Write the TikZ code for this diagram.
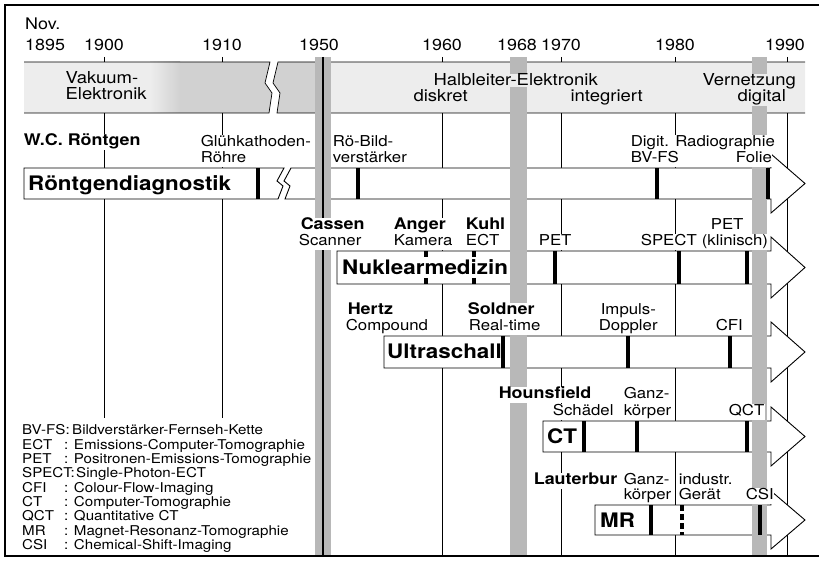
\documentclass[tikz,border=0pt]{standalone}
\usepackage{fontspec}
\setmainfont[FakeStretch=1.12]{TeX Gyre Heros}
\usetikzlibrary{calc}
\definecolor{bandlight}{gray}{0.93}
\definecolor{banddark}{gray}{0.82}
\definecolor{stipple}{gray}{0.72}
\newcommand{\yearfont}{\fontsize{16}{17}\selectfont}
\newcommand{\labfont}{\fontsize{15}{16}\selectfont}
\newcommand{\namefont}{\fontsize{16}{17}\selectfont\bfseries}
\newcommand{\titlefont}{\fontsize{20}{22}\selectfont\bfseries}
\newcommand{\epochfont}{\fontsize{16.5}{17}\selectfont}
\newcommand{\legfont}{\fontsize{13.5}{14}\selectfont}

\begin{document}
\begin{tikzpicture}[
    x=1pt, y=-1pt,
    boxframe/.style={line width=1.6pt},
    gridline/.style={line width=0.7pt},
    bar/.style={draw, fill=white, line width=0.9pt},
    evtick/.style={line width=3.2pt},
    band/.style={fill=stipple},
    yearlab/.style={font=\yearfont, anchor=base, inner sep=0pt},
    lab/.style={font=\labfont, fill=white, inner sep=0.6pt, text height=11pt, text depth=3.5pt, anchor=base west},
    who/.style={lab, font=\namefont},
    bartitle/.style={font=\titlefont, anchor=base west, inner sep=0pt},
    epoch/.style={font=\epochfont, fill=bandlight, inner sep=0.4pt, anchor=base west},
    leg/.style={font=\legfont, anchor=base west, inner sep=0pt},
]
    \useasboundingbox (0,0) rectangle (820,569);
    \draw[boxframe] (819,5) -- (5,5) -- (5,556) -- (819,556);

    % epoch band with break
    \fill[bandlight] (24,62) -- (270,62) -- (265,83) -- (272,93) -- (269,113) -- (24,113) -- cycle;
    \fill[bandlight] (805,62) -- (278,62) -- (273,83) -- (280,93) -- (277,113) -- (805,113) -- cycle;
    \shade[left color=bandlight, right color=banddark] (150,62) rectangle (180,113);
    \fill[banddark] (180,62) -- (270,62) -- (265,83) -- (272,93) -- (269,113) -- (180,113) -- cycle;
    \fill[banddark] (315,62) -- (278,62) -- (273,83) -- (280,93) -- (277,113) -- (315,113) -- cycle;
    \draw[gridline] (24,62) -- (270,62) -- (265,83) -- (272,93) -- (269,113) -- (24,113);
    \draw[gridline] (805,62) -- (278,62) -- (273,83) -- (280,93) -- (277,113) -- (805,113);
    \foreach \x in {104, 222, 442, 561, 675, 787} {
        \draw[gridline] (\x,57) -- (\x,62);
    }

    % year lines
    \foreach \x in {104, 222} {
        \draw[gridline] (\x,113) -- (\x,418);
    }
    \foreach \x in {442, 561, 675, 787} {
        \draw[gridline] (\x,113) -- (\x,556);
    }

    % bars
    \draw[bar] (24,168) -- (284,168) -- (277,181) -- (283,186) -- (278,199) -- (24,199) -- cycle;
    \draw[bar] (291,168) -- (771,168) -- (771,154) -- (805,183.5) -- (771,213) -- (771,199) -- (285,199) -- (290,186) -- (284,181) -- cycle;
    \foreach \xa/\ya/\yb in {337/251/284, 384/336/368, 543/421/452, 595/505/535} {
        \draw[bar] (\xa,\ya) -- (771,\ya) -- (771,\ya-14) -- (805,{(\ya+\yb)/2}) -- (771,\yb+14) -- (771,\yb) -- (\xa,\yb) -- cycle;
    }
    \node[bartitle] (roentgen) at (28,191) {Röntgendiagnostik};
    \node[bartitle] (nuklear) at (342,274.5) {Nuklearmedizin};
    \node[bartitle] (ultra) at (387,359) {Ultraschall};
    \node[bartitle] (ct) at (547,444) {CT};
    \node[bartitle] (mr) at (600,527.5) {MR};

    % shaded years 1950, 1968, 1988
    \foreach \xa/\xb in {315/331, 510/527, 752/767} {
        \fill[band] (\xa,57) rectangle (\xb,555);
    }
    \draw[line width=1.2pt] (323,57) -- (323,555);

    % events on the bars
    \foreach \x/\ya/\yb in {258/168/199, 358/168/199, 657/168/199, 768/168/199,
                            555/251/284, 679/251/284, 747/251/284,
                            503/336/368, 628/336/368, 730/336/368,
                            584/421/452, 637/421/452, 747/421/452,
                            651/505/535, 760/505/535} {
        \draw[evtick] (\x,\ya) -- (\x,\yb);
    }
    \foreach \x in {426, 474} {
        \draw[evtick] (\x,251) -- (\x,257) (\x,278) -- (\x,284);
    }
    \draw[evtick, dash pattern=on 6pt off 3pt] (682,505) -- (682,535);

    % years
    \node[yearlab, anchor=base west] (nov) at (25,30) {Nov.};
    \node[yearlab, anchor=base west] (y1895) at (25,51) {1895};
    \foreach \x/\yr in {104/1900, 222/1910, 319/1950, 442/1960, 517/1968, 561/1970, 675/1980, 785/1990} {
        \node[yearlab] (y\yr) at (\x,51) {\yr};
    }

    % epochs
    \node[epoch] (vak1) at (65,84) {Vakuum-};
    \node[epoch] (vak2) at (65,100) {Elektronik};
    \node[epoch] (halb) at (433,86) {Halbleiter-Elektronik};
    \node[epoch] (disk) at (413,102) {diskret};
    \node[epoch] (integ) at (570,102) {integriert};
    \node[epoch] (vern) at (702,86) {Vernetzung};
    \node[epoch] (digi) at (737,102) {digital};

    % names and events
    \foreach \x/\y/\t [count=\i] in {23/146/W.C. Röntgen, 300/230/Cassen, 393/230/Anger,
                                      465/230/Kuhl, 347/315/Hertz, 467/315/Soldner,
                                      498/399/Hounsfield, 533/485/Lauterbur} {
        \node[who] (who\i) at (\x,\y) {\t};
    }
    \foreach \x/\y/\t [count=\i] in {200/147/Glühkathoden-, 200/163/Röhre, 332/147/Rö-Bild-,
                                      332/163/verstärker, 630/147/Digit. Radiographie,
                                      630/163/BV-FS, 735/163/Folie,
                                      298/246/Scanner, 393/246/Kamera, 465/246/ECT,
                                      538/246/PET, 640/246/SPECT, 710/230/PET, 701/246/(klinisch),
                                      345/331/Compound, 468/331/Real-time, 600/315/Impuls-,
                                      598/331/Doppler, 715/331/CFI,
                                      552/416/Schädel, 623/399/Ganz-, 623/416/körper, 728/416/QCT,
                                      623/485/Ganz-, 623/500/körper, 678/485/industr.,
                                      678/500/Gerät, 745/500/CSI} {
        \node[lab] (ev\i) at (\x,\y) {\t};
    }

    % legend
    \foreach \ab/\dx/\de [count=\i] in {BV-FS:/72/Bildverstärker-Fernseh-Kette,
                                         ECT/64/: Emissions-Computer-Tomographie,
                                         PET/64/: Positronen-Emissions-Tomographie,
                                         SPECT:/76/Single-Photon-ECT,
                                         CFI/64/: Colour-Flow-Imaging,
                                         CT/64/: Computer-Tomographie,
                                         QCT/64/: Quantitative CT,
                                         MR/64/: Magnet-Resonanz-Tomographie,
                                         CSI/64/: Chemical-Shift-Imaging} {
        \node[leg] (abbr\i) at (22,{435+14.3*(\i-1)}) {\ab};
        \node[leg] (desc\i) at (\dx,{435+14.3*(\i-1)}) {\de};
    }
\end{tikzpicture}
\end{document}
